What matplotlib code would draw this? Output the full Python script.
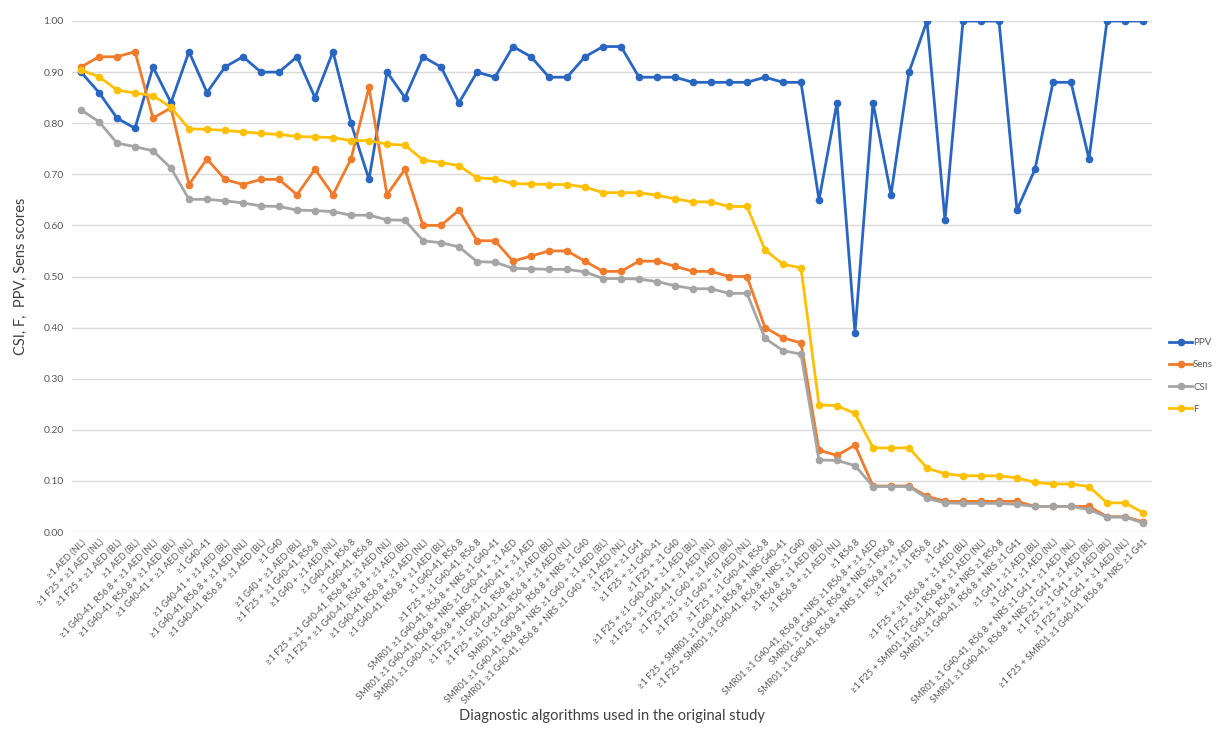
import matplotlib
matplotlib.use('Agg')
import matplotlib.pyplot as plt
import numpy as np

plt.rcParams['font.family'] = ['Lato', 'DejaVu Sans']

algorithms = [
    '≥1 AED (NL)',
    '≥1 F25 + ≥1 AED (NL)',
    '≥1 F25 + ≥1 AED (BL)',
    '≥1 AED (BL)',
    '≥1 G40-41, R56.8 + ≥1 AED (NL)',
    '≥1 G40-41, R56.8 + ≥1 AED (BL)',
    '≥1 G40-41 + ≥1 AED (NL)',
    '≥1 G40-41',
    '≥1 G40-41 + ≥1 AED (BL)',
    '≥1 G40-41, R56.8 + ≥1 AED (NL)',
    '≥1 G40-41, R56.8 + ≥1 AED (BL)',
    '≥1 G40',
    '≥1 G40 + ≥1 AED (BL)',
    '≥1 F25 + ≥1 G40-41, R56.8',
    '≥1 G40 + ≥1 AED (NL)',
    '≥1 G40-41, R56.8',
    '≥1 G40-41, R56.8',
    '≥1 F25 + ≥1 G40-41, R56.8 + ≥1 AED (NL)',
    '≥1 F25 + ≥1 G40-41, R56.8 + ≥1 AED (BL)',
    '≥1 G40-41, R56.8 + ≥1 AED (NL)',
    '≥1 G40-41, R56.8 + ≥1 AED (BL)',
    '≥1 G40-41, R56.8',
    '≥1 F25 + ≥1 G40-41, R56.8',
    'SMR01 ≥1 G40-41, R56.8 + NRS ≥1 G40-41',
    'SMR01 ≥1 G40-41, R56.8 + NRS ≥1 G40-41 + ≥1 AED',
    'SMR01 ≥1 G40-41, R56.8 + NRS ≥1 G40-41 + ≥1 AED',
    '≥1 F25 + ≥1 G40-41, R56.8 + ≥1 AED (BL)',
    '≥1 F25 + ≥1 G40-41, R56.8 + ≥1 AED (NL)',
    'SMR01 ≥1 G40-41, R56.8 + NRS ≥1 G40',
    'SMR01 ≥1 G40-41, R56.8 + NRS ≥1 G40 + ≥1 AED (BL)',
    'SMR01 ≥1 G40-41, R56.8 + NRS ≥1 G40 + ≥1 AED (NL)',
    '≥1 F25 + ≥1 G41',
    '≥1 F25 + ≥1 G40-41',
    '≥1 F25 + ≥1 G40',
    '≥1 F25 + ≥1 G40-41 + ≥1 AED (BL)',
    '≥1 F25 + ≥1 G40-41 + ≥1 AED (NL)',
    '≥1 F25 + ≥1 G40 + ≥1 AED (BL)',
    '≥1 F25 + ≥1 G40 + ≥1 AED (NL)',
    '≥1 F25 + ≥1 G40-41, R56.8',
    '≥1 F25 + SMR01 ≥1 G40-41, R56.8 + NRS G40-41',
    '≥1 F25 + SMR01 ≥1 G40-41, R56.8 + NRS ≥1 G40',
    '≥1 R56.8 + ≥1 AED (BL)',
    '≥1 R56.8 + ≥1 AED (NL)',
    '≥1 R56.8',
    'SMR01 ≥1 G40-41, R56.8 + NRS ≥1 R56.8 + ≥1 AED',
    'SMR01 ≥1 G40-41, R56.8 + NRS ≥1 R56.8',
    'SMR01 ≥1 G40-41, R56.8 + NRS ≥1 R56.8 + ≥1 AED',
    '≥1 F25 + ≥1 R56.8',
    '≥1 G41',
    '≥1 F25 + ≥1 R56.8 + ≥1 AED (BL)',
    '≥1 F25 + ≥1 R56.8 + ≥1 AED (NL)',
    '≥1 F25 + SMR01 ≥1 G40-41, R56.8 + NRS ≥1 R56.8',
    'SMR01 ≥1 G40-41, R56.8 + NRS ≥1 G41',
    '≥1 G41 + ≥1 AED (BL)',
    '≥1 G41 + ≥1 AED (NL)',
    'SMR01 ≥1 G40-41, R56.8 + NRS ≥1 G41 + ≥1 AED (NL)',
    'SMR01 ≥1 G40-41, R56.8 + NRS ≥1 G41 + ≥1 AED (BL)',
    '≥1 F25 + ≥1 G41 + ≥1 AED (BL)',
    '≥1 F25 + ≥1 G41 + ≥1 AED (NL)',
    '≥1 F25 + SMR01 ≥1 G40-41, R56.8 + NRS ≥1 G41',
]

ppv = [0.90, 0.86, 0.81, 0.79, 0.91, 0.84, 0.94, 0.86, 0.91, 0.93,
       0.90, 0.90, 0.93, 0.85, 0.94, 0.80, 0.69, 0.90, 0.85, 0.93,
       0.91, 0.84, 0.90, 0.89, 0.95, 0.93, 0.89, 0.89, 0.93, 0.95,
       0.95, 0.89, 0.89, 0.89, 0.88, 0.88, 0.88, 0.88, 0.89, 0.88,
       0.88, 0.65, 0.84, 0.39, 0.84, 0.66, 0.90, 1.00, 0.61, 1.00,
       1.00, 1.00, 0.63, 0.71, 0.88, 0.88, 0.73, 1.00, 1.00, 1.00]

sens = [0.91, 0.93, 0.93, 0.94, 0.81, 0.83, 0.68, 0.73, 0.69, 0.68,
        0.69, 0.69, 0.66, 0.71, 0.66, 0.73, 0.87, 0.66, 0.71, 0.60,
        0.60, 0.63, 0.57, 0.57, 0.53, 0.54, 0.55, 0.55, 0.53, 0.51,
        0.51, 0.53, 0.53, 0.52, 0.51, 0.51, 0.50, 0.50, 0.40, 0.38,
        0.37, 0.16, 0.15, 0.17, 0.09, 0.09, 0.09, 0.07, 0.06, 0.06,
        0.06, 0.06, 0.06, 0.05, 0.05, 0.05, 0.05, 0.03, 0.03, 0.02]

csi = [0.826, 0.803, 0.761, 0.754, 0.746, 0.712, 0.651, 0.651, 0.648, 0.644,
       0.638, 0.637, 0.630, 0.629, 0.627, 0.620, 0.620, 0.611, 0.610, 0.570,
       0.566, 0.558, 0.529, 0.528, 0.516, 0.515, 0.514, 0.514, 0.509, 0.496,
       0.496, 0.495, 0.490, 0.482, 0.476, 0.476, 0.467, 0.467, 0.379, 0.355,
       0.348, 0.141, 0.140, 0.130, 0.089, 0.089, 0.089, 0.066, 0.057, 0.056,
       0.056, 0.056, 0.054, 0.050, 0.050, 0.050, 0.044, 0.029, 0.029, 0.018]

f_score = [0.904, 0.891, 0.865, 0.859, 0.854, 0.831, 0.789, 0.788, 0.786, 0.783,
           0.780, 0.778, 0.774, 0.773, 0.772, 0.766, 0.766, 0.759, 0.757, 0.728,
           0.723, 0.717, 0.693, 0.691, 0.682, 0.681, 0.680, 0.680, 0.675, 0.664,
           0.664, 0.664, 0.659, 0.652, 0.646, 0.646, 0.637, 0.637, 0.552, 0.524,
           0.517, 0.249, 0.247, 0.232, 0.165, 0.164, 0.165, 0.125, 0.114, 0.110,
           0.110, 0.110, 0.106, 0.097, 0.094, 0.094, 0.089, 0.057, 0.057, 0.038]

x = np.arange(len(algorithms))

fig = plt.figure(figsize=(12.18, 7.33), dpi=100)
ax = fig.add_axes([72/1218, 1-532/733, 1080/1218, 511/733])

style = dict(linewidth=2.0, marker='o', markersize=4.5)
ax.plot(x, ppv, color='#2966C2', label='PPV', **style)
ax.plot(x, sens, color='#F07B2B', label='Sens', **style)
ax.plot(x, csi, color='#A5A5A5', label='CSI', **style)
ax.plot(x, f_score, color='#FFC000', label='F', **style)

ax.set_xlim(-0.5, len(algorithms) - 0.5)
ax.set_ylim(0, 1.0)
ax.set_yticks(np.arange(0, 1.01, 0.1))
ax.set_yticklabels(['%.2f' % v for v in np.arange(0, 1.01, 0.1)], fontsize=7.5, color='#595959')
ax.set_xticks(x)
ax.set_xticklabels(algorithms, rotation=45, ha='right', va='top', rotation_mode='anchor',
                   fontsize=6.7, color='#595959')
ax.tick_params(length=0, pad=6)
ax.tick_params(axis='x', pad=4)
ax.grid(axis='y', color='#D9D9D9', linewidth=1)
ax.set_axisbelow(True)
for s in ax.spines.values():
    s.set_visible(False)

ax.set_ylabel('CSI, F,  PPV, Sens scores', fontsize=10.5, color='#404040')
ax.yaxis.set_label_coords(-0.041, 0.5)
fig.text(612/1218, 1-716/733, 'Diagnostic algorithms used in the original study',
         ha='center', va='center', fontsize=10.5, color='#404040')

ax.legend(loc='center left', bbox_to_anchor=(1165/1218, 1-376/733), bbox_transform=fig.transFigure,
          frameon=False, fontsize=7, labelcolor='#595959', handlelength=2.4,
          handletextpad=0.1, labelspacing=1.35, borderaxespad=0)

fig.savefig('out.png', dpi=100)
